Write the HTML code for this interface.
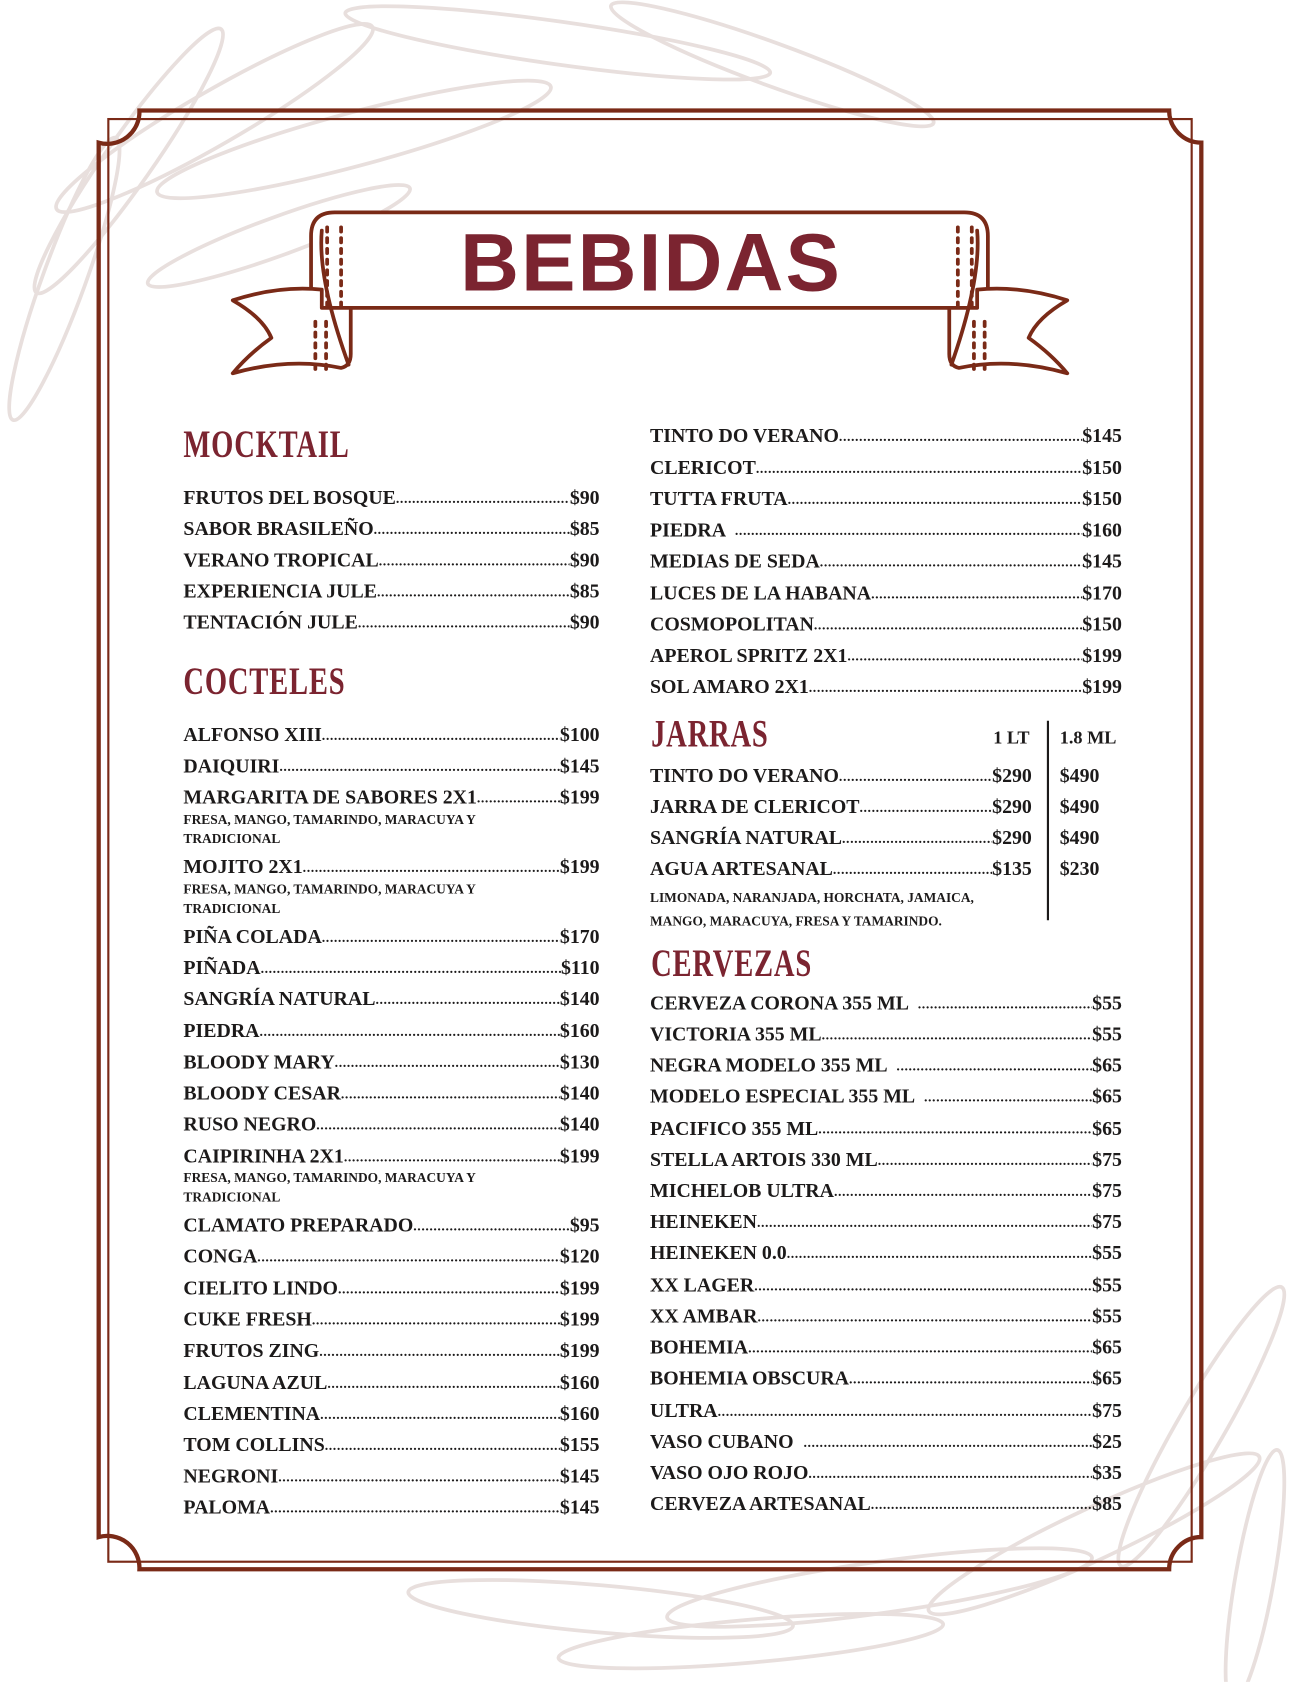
<!DOCTYPE html>
<html><head><meta charset="utf-8"><style>
html,body{margin:0;padding:0;background:#fff;}
body{width:1300px;height:1682px;overflow:hidden;position:relative;}
#w{position:absolute;left:0;top:0;width:1212px;height:1568px;transform:scale(1.07261);transform-origin:0 0;}
.r{position:absolute;display:flex;height:22px;line-height:22px;font-family:"Liberation Serif",serif;font-weight:bold;font-size:18.5px;color:#1c1a1a;white-space:nowrap;}
.n{white-space:nowrap;}
.d{flex:1;overflow:hidden;white-space:nowrap;font-size:13px;letter-spacing:0.5px;}
.d::after{content:"........................................................................................................................................................................................................";}
.p{white-space:nowrap;}
.s{position:absolute;font-family:"Liberation Serif",serif;font-weight:bold;font-size:12.5px;color:#1c1a1a;line-height:18px;white-space:nowrap;}
.h{position:absolute;font-family:"Liberation Serif",serif;font-weight:bold;font-size:36px;color:#7b2430;transform:scaleX(0.74);transform-origin:0 0;letter-spacing:1px;line-height:36px;}
</style></head><body><div id="w">
<svg width="1212" height="1568" style="position:absolute;left:0;top:0">
<g fill="none" stroke="#e8dfdd" stroke-width="3.5">
<ellipse cx="120" cy="150" rx="150" ry="22" transform="rotate(-55 120 150)"/>
<ellipse cx="200" cy="110" rx="170" ry="25" transform="rotate(-30 200 110)"/>
<ellipse cx="330" cy="130" rx="190" ry="25" transform="rotate(-15 330 130)"/>
<ellipse cx="60" cy="260" rx="140" ry="20" transform="rotate(-70 60 260)"/>
<ellipse cx="520" cy="40" rx="200" ry="20" transform="rotate(8 520 40)"/>
<ellipse cx="720" cy="60" rx="160" ry="20" transform="rotate(20 720 60)"/>
<ellipse cx="260" cy="220" rx="130" ry="18" transform="rotate(-20 260 220)"/>
<ellipse cx="1120" cy="1330" rx="150" ry="22" transform="rotate(-60 1120 1330)"/>
<ellipse cx="1020" cy="1430" rx="170" ry="24" transform="rotate(-25 1020 1430)"/>
<ellipse cx="820" cy="1480" rx="200" ry="24" transform="rotate(-8 820 1480)"/>
<ellipse cx="560" cy="1500" rx="180" ry="22" transform="rotate(5 560 1500)"/>
<ellipse cx="1170" cy="1470" rx="120" ry="18" transform="rotate(-80 1170 1470)"/>
<ellipse cx="700" cy="1530" rx="180" ry="20" transform="rotate(-5 700 1530)"/>
</g>
<g fill="none" stroke="#7a2a17">
<path d="M130 103 L1090 103 A30 30 0 0 0 1120 133 L1120 1433 A30 30 0 0 0 1090 1463 L130 1463 A 30 30 0 0 0 92 1433 L92 133 A30 30 0 0 0 130 103 Z" stroke-width="4"/>
<rect x="101" y="111" width="1010" height="1345" stroke-width="2"/>
</g>
<g fill="#fff" stroke="#7a2a17" stroke-width="3.5" stroke-linejoin="round">
<path d="M290 287 L921 287 L921 220 Q921 198 899 198 L312 198 Q290 198 290 220 Z"/>
<path d="M300 270 Q260 266 217 280 Q245 296 253 315 Q232 330 217 348 Q270 333 318 343 Q327 341 327 330 L327 287 L300 287 Z"/>
<path d="M911 270 Q952 266 995 280 Q967 296 959 315 Q980 330 995 348 Q942 333 894 343 Q885 341 885 330 L885 287 L911 287 Z"/>
</g>
<g stroke="#7a2a17" stroke-width="3.5" stroke-linecap="round" fill="none">
<path d="M300 215 Q296 260 325 340"/>
<path d="M911 215 Q915 260 887 340"/>
</g>
<g stroke="#7a2a17" stroke-width="3.5" stroke-linecap="round" stroke-dasharray="4 6">
<line x1="305" y1="212" x2="305" y2="285"/><line x1="318" y1="212" x2="318" y2="285"/>
<line x1="294" y1="300" x2="294" y2="345"/><line x1="304" y1="300" x2="304" y2="345"/>
<line x1="906" y1="212" x2="906" y2="285"/><line x1="893" y1="212" x2="893" y2="285"/>
<line x1="918" y1="300" x2="918" y2="345"/><line x1="908" y1="300" x2="908" y2="345"/>
</g>
<line x1="977" y1="672" x2="977" y2="858" stroke="#1c1a1a" stroke-width="2"/>
<text x="607" y="271" text-anchor="middle" font-family="Liberation Sans, sans-serif" font-weight="bold" font-size="76" fill="#7b2430" letter-spacing="2">BEBIDAS</text>
</svg>

<div class="h" style="left:171px;top:396px">MOCKTAIL</div>
<div class="h" style="left:171px;top:617px">COCTELES</div>
<div class="h" style="left:607px;top:666px">JARRAS</div>
<div class="h" style="left:607px;top:880px">CERVEZAS</div>

<div class="r" style="left:171px;top:454px;width:388px"><span class="n">FRUTOS DEL BOSQUE </span><span class="d"></span><span class="p">$90</span></div>
<div class="r" style="left:171px;top:483px;width:388px"><span class="n">SABOR BRASILEÑO </span><span class="d"></span><span class="p">$85</span></div>
<div class="r" style="left:171px;top:512px;width:388px"><span class="n">VERANO TROPICAL </span><span class="d"></span><span class="p">$90</span></div>
<div class="r" style="left:171px;top:541px;width:388px"><span class="n">EXPERIENCIA JULE </span><span class="d"></span><span class="p">$85</span></div>
<div class="r" style="left:171px;top:570px;width:388px"><span class="n">TENTACIÓN JULE </span><span class="d"></span><span class="p">$90</span></div>

<div class="r" style="left:171px;top:675px;width:388px"><span class="n">ALFONSO XIII </span><span class="d"></span><span class="p">$100</span></div>
<div class="r" style="left:171px;top:704px;width:388px"><span class="n">DAIQUIRI </span><span class="d"></span><span class="p">$145</span></div>
<div class="r" style="left:171px;top:733px;width:388px"><span class="n">MARGARITA DE SABORES 2X1 </span><span class="d"></span><span class="p">$199</span></div>
<div class="s" style="left:171px;top:755px">FRESA, MANGO, TAMARINDO, MARACUYA Y<br>TRADICIONAL</div>
<div class="r" style="left:171px;top:798px;width:388px"><span class="n">MOJITO 2X1</span><span class="d"></span><span class="p">$199</span></div>
<div class="s" style="left:171px;top:820px">FRESA, MANGO, TAMARINDO, MARACUYA Y<br>TRADICIONAL</div>
<div class="r" style="left:171px;top:863px;width:388px"><span class="n">PIÑA COLADA </span><span class="d"></span><span class="p">$170</span></div>
<div class="r" style="left:171px;top:892px;width:388px"><span class="n">PIÑADA </span><span class="d"></span><span class="p">$110</span></div>
<div class="r" style="left:171px;top:921px;width:388px"><span class="n">SANGRÍA NATURAL</span><span class="d"></span><span class="p">$140</span></div>
<div class="r" style="left:171px;top:951px;width:388px"><span class="n">PIEDRA </span><span class="d"></span><span class="p">$160</span></div>
<div class="r" style="left:171px;top:980px;width:388px"><span class="n">BLOODY MARY </span><span class="d"></span><span class="p">$130</span></div>
<div class="r" style="left:171px;top:1009px;width:388px"><span class="n">BLOODY CESAR </span><span class="d"></span><span class="p">$140</span></div>
<div class="r" style="left:171px;top:1038px;width:388px"><span class="n">RUSO NEGRO </span><span class="d"></span><span class="p">$140</span></div>
<div class="r" style="left:171px;top:1068px;width:388px"><span class="n">CAIPIRINHA 2X1 </span><span class="d"></span><span class="p">$199</span></div>
<div class="s" style="left:171px;top:1089px">FRESA, MANGO, TAMARINDO, MARACUYA Y<br>TRADICIONAL</div>
<div class="r" style="left:171px;top:1132px;width:388px"><span class="n">CLAMATO PREPARADO</span><span class="d"></span><span class="p">$95</span></div>
<div class="r" style="left:171px;top:1161px;width:388px"><span class="n">CONGA </span><span class="d"></span><span class="p">$120</span></div>
<div class="r" style="left:171px;top:1191px;width:388px"><span class="n">CIELITO LINDO </span><span class="d"></span><span class="p">$199</span></div>
<div class="r" style="left:171px;top:1220px;width:388px"><span class="n">CUKE FRESH </span><span class="d"></span><span class="p">$199</span></div>
<div class="r" style="left:171px;top:1249px;width:388px"><span class="n">FRUTOS ZING </span><span class="d"></span><span class="p">$199</span></div>
<div class="r" style="left:171px;top:1279px;width:388px"><span class="n">LAGUNA AZUL </span><span class="d"></span><span class="p">$160</span></div>
<div class="r" style="left:171px;top:1308px;width:388px"><span class="n">CLEMENTINA </span><span class="d"></span><span class="p">$160</span></div>
<div class="r" style="left:171px;top:1337px;width:388px"><span class="n">TOM COLLINS </span><span class="d"></span><span class="p">$155</span></div>
<div class="r" style="left:171px;top:1366px;width:388px"><span class="n">NEGRONI </span><span class="d"></span><span class="p">$145</span></div>
<div class="r" style="left:171px;top:1395px;width:388px"><span class="n">PALOMA </span><span class="d"></span><span class="p">$145</span></div>

<div class="r" style="left:606px;top:396px;width:440px"><span class="n">TINTO DO VERANO </span><span class="d"></span><span class="p">$145</span></div>
<div class="r" style="left:606px;top:426px;width:440px"><span class="n">CLERICOT</span><span class="d"></span><span class="p">$150</span></div>
<div class="r" style="left:606px;top:455px;width:440px"><span class="n">TUTTA FRUTA </span><span class="d"></span><span class="p">$150</span></div>
<div class="r" style="left:606px;top:484px;width:440px"><span class="n">PIEDRA &nbsp;</span><span class="d"></span><span class="p">$160</span></div>
<div class="r" style="left:606px;top:513px;width:440px"><span class="n">MEDIAS DE SEDA </span><span class="d"></span><span class="p">$145</span></div>
<div class="r" style="left:606px;top:543px;width:440px"><span class="n">LUCES DE LA HABANA </span><span class="d"></span><span class="p">$170</span></div>
<div class="r" style="left:606px;top:572px;width:440px"><span class="n">COSMOPOLITAN </span><span class="d"></span><span class="p">$150</span></div>
<div class="r" style="left:606px;top:601px;width:440px"><span class="n">APEROL SPRITZ 2X1 </span><span class="d"></span><span class="p">$199</span></div>
<div class="r" style="left:606px;top:630px;width:440px"><span class="n">SOL AMARO 2X1</span><span class="d"></span><span class="p">$199</span></div>

<div class="r" style="left:926px;top:677px;font-size:17px">1 LT</div>
<div class="r" style="left:988px;top:677px;font-size:17px">1.8 ML</div>
<div class="r" style="left:606px;top:713px;width:356px"><span class="n">TINTO DO VERANO</span><span class="d"></span><span class="p">$290</span></div>
<div class="r" style="left:606px;top:742px;width:356px"><span class="n">JARRA DE CLERICOT</span><span class="d"></span><span class="p">$290</span></div>
<div class="r" style="left:606px;top:771px;width:356px"><span class="n">SANGRÍA NATURAL </span><span class="d"></span><span class="p">$290</span></div>
<div class="r" style="left:606px;top:800px;width:356px"><span class="n">AGUA ARTESANAL</span><span class="d"></span><span class="p">$135</span></div>
<div class="r" style="left:988px;top:713px">$490</div>
<div class="r" style="left:988px;top:742px">$490</div>
<div class="r" style="left:988px;top:771px">$490</div>
<div class="r" style="left:988px;top:800px">$230</div>
<div class="s" style="left:606px;top:826px;line-height:22px">LIMONADA, NARANJADA, HORCHATA, JAMAICA,<br>MANGO, MARACUYA, FRESA Y TAMARINDO.</div>

<div class="r" style="left:606px;top:925px;width:440px"><span class="n">CERVEZA CORONA 355 ML &nbsp;</span><span class="d"></span><span class="p">$55</span></div>
<div class="r" style="left:606px;top:954px;width:440px"><span class="n">VICTORIA 355 ML </span><span class="d"></span><span class="p">$55</span></div>
<div class="r" style="left:606px;top:983px;width:440px"><span class="n">NEGRA MODELO 355 ML &nbsp;</span><span class="d"></span><span class="p">$65</span></div>
<div class="r" style="left:606px;top:1012px;width:440px"><span class="n">MODELO ESPECIAL 355 ML &nbsp;</span><span class="d"></span><span class="p">$65</span></div>
<div class="r" style="left:606px;top:1042px;width:440px"><span class="n">PACIFICO 355 ML </span><span class="d"></span><span class="p">$65</span></div>
<div class="r" style="left:606px;top:1071px;width:440px"><span class="n">STELLA ARTOIS 330 ML </span><span class="d"></span><span class="p">$75</span></div>
<div class="r" style="left:606px;top:1100px;width:440px"><span class="n">MICHELOB ULTRA </span><span class="d"></span><span class="p">$75</span></div>
<div class="r" style="left:606px;top:1129px;width:440px"><span class="n">HEINEKEN </span><span class="d"></span><span class="p">$75</span></div>
<div class="r" style="left:606px;top:1158px;width:440px"><span class="n">HEINEKEN 0.0</span><span class="d"></span><span class="p">$55</span></div>
<div class="r" style="left:606px;top:1188px;width:440px"><span class="n">XX LAGER </span><span class="d"></span><span class="p">$55</span></div>
<div class="r" style="left:606px;top:1217px;width:440px"><span class="n">XX AMBAR </span><span class="d"></span><span class="p">$55</span></div>
<div class="r" style="left:606px;top:1246px;width:440px"><span class="n">BOHEMIA </span><span class="d"></span><span class="p">$65</span></div>
<div class="r" style="left:606px;top:1275px;width:440px"><span class="n">BOHEMIA OBSCURA </span><span class="d"></span><span class="p">$65</span></div>
<div class="r" style="left:606px;top:1305px;width:440px"><span class="n">ULTRA </span><span class="d"></span><span class="p">$75</span></div>
<div class="r" style="left:606px;top:1334px;width:440px"><span class="n">VASO CUBANO &nbsp;</span><span class="d"></span><span class="p">$25</span></div>
<div class="r" style="left:606px;top:1363px;width:440px"><span class="n">VASO OJO ROJO</span><span class="d"></span><span class="p">$35</span></div>
<div class="r" style="left:606px;top:1392px;width:440px"><span class="n">CERVEZA ARTESANAL </span><span class="d"></span><span class="p">$85</span></div>
</div></body></html>
